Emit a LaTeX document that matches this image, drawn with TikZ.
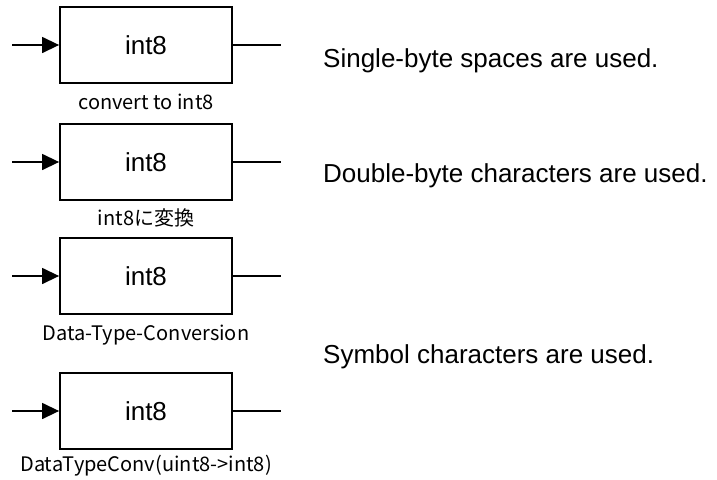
\documentclass[tikz,border=0pt]{standalone}
\usepackage{fontspec}
\setmainfont{Liberation Sans}
\newfontfamily\jpfont{Noto Sans CJK JP}
\usetikzlibrary{arrows.meta}

\tikzset{
	blockbox/.style={draw, line width=1.8pt, minimum width=172pt, minimum height=76pt, inner sep=0pt, font=\fontsize{26}{28}\selectfont},
	blocklabel/.style={font=\jpfont\fontsize{20}{22}\selectfont, inner sep=0pt},
	note/.style={anchor=base west, inner sep=0pt, font=\fontsize{26}{28}\selectfont},
	sig/.style={line width=1.4pt}
}

\begin{document}
\begin{tikzpicture}[x=1pt, y=-1pt]
		\def\xc{146};
		\def\xin{12};
		\def\xout{281};
		\useasboundingbox (0,0) rectangle (717,479);

		\foreach \i/\y/\ly/\lab in {1/45/102/{convert to int8}, 2/162/218/{int8に変換}, 3/276/335/{Data-Type-Conversion}, 4/411/466/{DataTypeConv(uint8->int8)}} {
			\node [blockbox] (conv\i) at (\xc,\y) {int8};
			\node [blocklabel] (lab\i) at (\xc,\ly) {\lab};
			\coordinate (in\i) at (\xin,\y);
			\coordinate (out\i) at (\xout,\y);
			\draw [sig, -{Triangle[length=17pt, width=16pt]}] (in\i) -- (conv\i.west);
			\draw [sig] (conv\i.east) -- (out\i);
		}

		\node [note] (single) at (323,67) {Single-byte spaces are used.};
		\node [note] (double) at (323,182) {Double-byte characters are used.};
		\node [note] (symbol) at (323,363) {Symbol characters are used.};
	\end{tikzpicture}
\end{document}
